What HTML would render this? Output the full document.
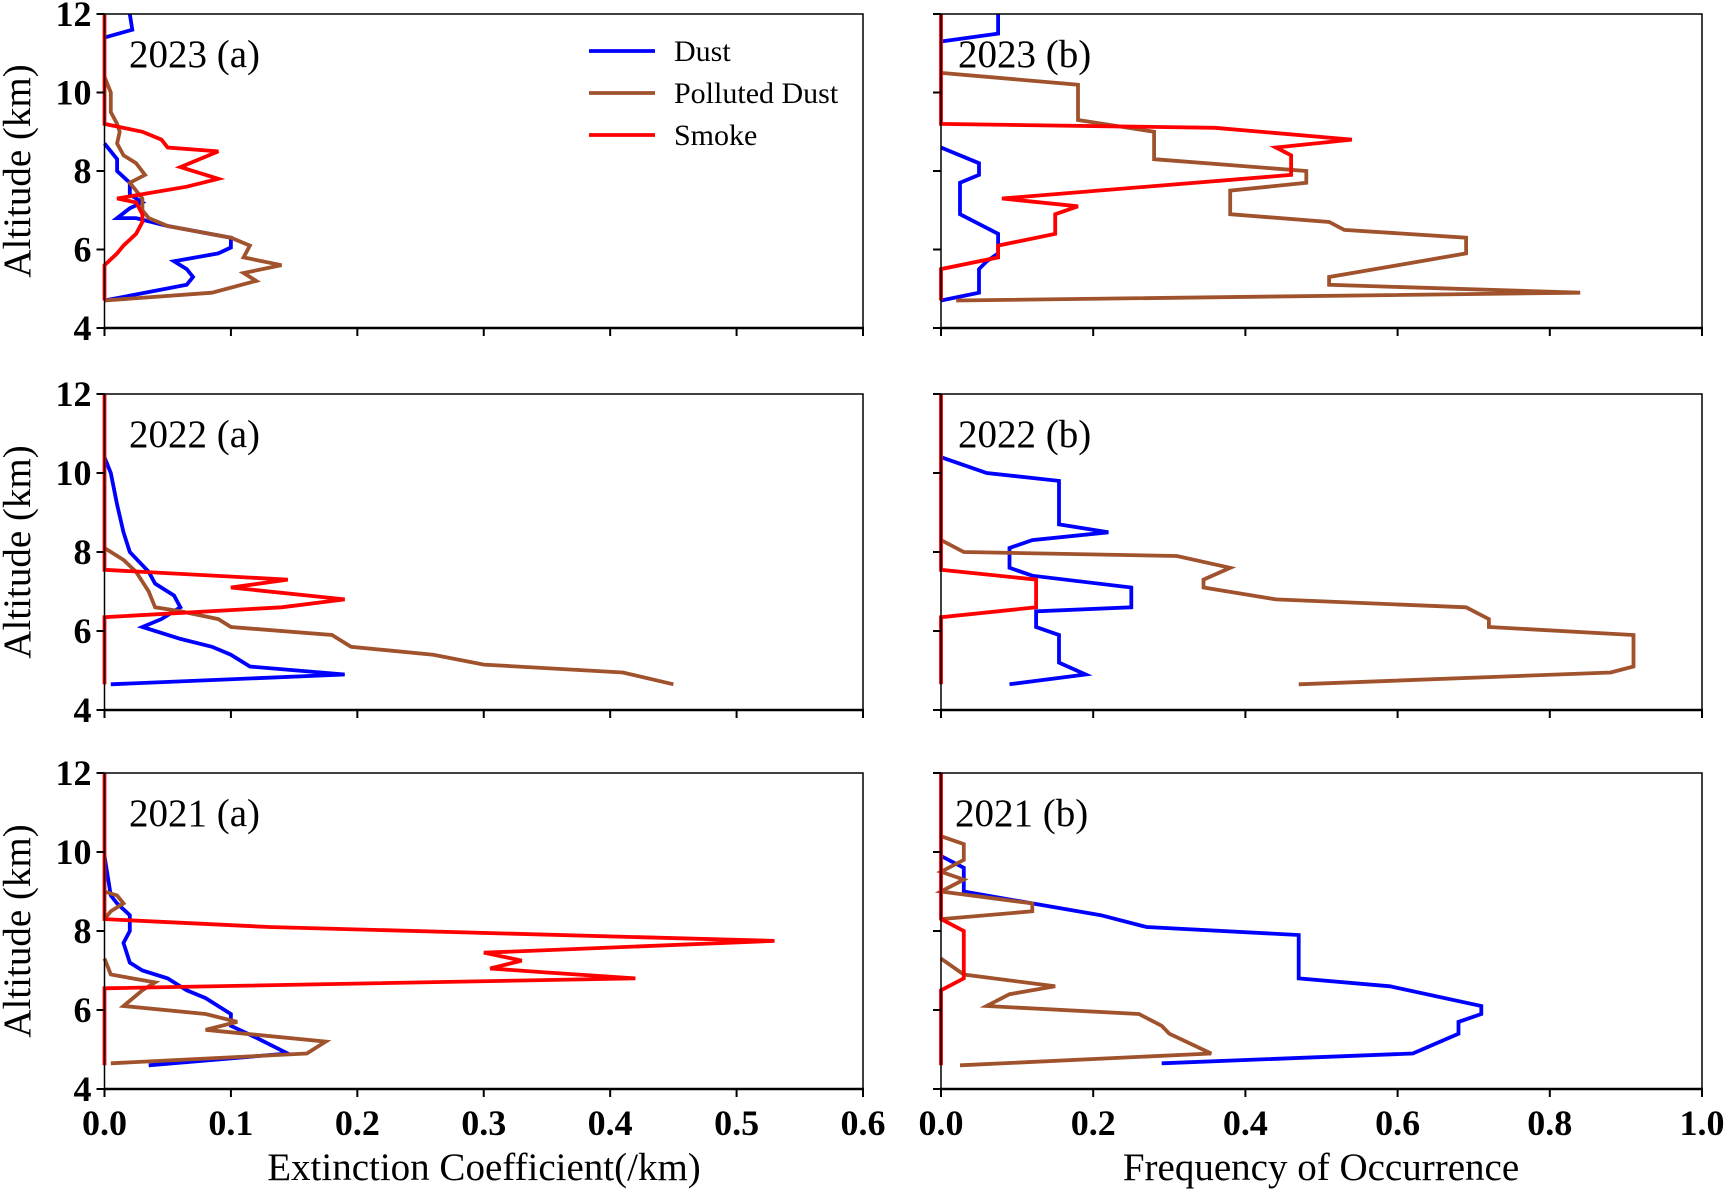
<!DOCTYPE html>
<html><head><meta charset="utf-8">
<style>body{margin:0;background:#fff}svg{display:block}text{font-family:"Liberation Serif",serif}</style>
</head><body>
<svg id="c" width="1725" height="1189"></svg>
<script>
const years=["2023","2022","2021"];
const yTicks=[4,6,8,10,12];
const xTicksA=["0.0","0.1","0.2","0.3","0.4","0.5","0.6"];
const xTicksB=["0.0","0.2","0.4","0.6","0.8","1.0"];
// each series: [value, altitude km]
const dustA2023=[[0.02,12],[0.022,11.6],[0,11.4],null,[0,8.7],[0.01,8.3],[0.01,8],[0.02,7.7],[0.02,7.4],[0.03,7.2],[0.02,7.05],[0.01,6.8],[0.025,6.8],[0.05,6.6],[0.1,6.3],[0.1,6.05],[0.09,5.9],[0.055,5.7],[0.065,5.5],[0.07,5.3],[0.065,5.1],[0,4.7]];
const pdustA2023=[[0,10.4],[0.005,10],[0.005,9.5],[0.01,9.2],[0.012,9],[0.01,8.7],[0.015,8.4],[0.025,8.2],[0.032,7.9],[0.02,7.7],[0.025,7.5],[0.03,7.3],[0.03,7.0],[0.035,6.8],[0.05,6.6],[0.1,6.3],[0.115,6.1],[0.11,5.8],[0.14,5.6],[0.11,5.4],[0.12,5.2],[0.085,4.9],[0,4.7]];
const smokeA2023=[[0,12],[0,9.2],[0.03,9.0],[0.045,8.8],[0.05,8.6],[0.09,8.5],[0.06,8.1],[0.09,7.8],[0.065,7.6],[0.01,7.3],[0.025,7.2],[0.03,6.9],[0.03,6.7],[0.025,6.4],[0.015,6.1],[0.01,5.9],[0,5.6],[0,4.7]];
const dustB2023=[[0.075,12],[0.075,11.5],[0,11.3],null,[0,8.6],[0.05,8.2],[0.05,7.9],[0.025,7.7],[0.025,6.9],[0.075,6.4],[0.075,5.9],[0.06,5.7],[0.05,5.5],[0.05,4.9],[0,4.7]];
const pdustB2023=[[0,10.5],[0.18,10.2],[0.18,9.3],[0.28,9],[0.28,8.3],[0.48,8],[0.48,7.7],[0.38,7.5],[0.38,6.9],[0.51,6.7],[0.53,6.5],[0.69,6.3],[0.69,5.9],[0.6,5.6],[0.51,5.3],[0.51,5.1],[0.84,4.9],[0.02,4.7]];
const smokeB2023=[[0,12],[0,9.2],[0.36,9.1],[0.54,8.8],[0.44,8.6],[0.46,8.4],[0.46,7.9],[0.08,7.3],[0.18,7.1],[0.15,6.9],[0.15,6.4],[0.075,6.1],[0.075,5.8],[0,5.5],[0,4.7]];
const dustA2022=[[0,10.4],[0.005,10],[0.01,9.2],[0.015,8.5],[0.02,8],[0.035,7.5],[0.04,7.2],[0.055,6.9],[0.06,6.6],[0.045,6.3],[0.03,6.1],[0.06,5.8],[0.085,5.6],[0.1,5.4],[0.115,5.1],[0.19,4.9],[0.005,4.65]];
const pdustA2022=[[0,8.1],[0.015,7.8],[0.025,7.5],[0.035,7.0],[0.04,6.6],[0.06,6.5],[0.09,6.3],[0.1,6.1],[0.18,5.9],[0.195,5.6],[0.26,5.4],[0.3,5.15],[0.41,4.95],[0.45,4.65]];
const smokeA2022=[[0,12],[0,7.55],[0.145,7.3],[0.1,7.1],[0.19,6.8],[0.14,6.6],[0,6.35],[0,4.65]];
const dustB2022=[[0,10.4],[0.06,10],[0.155,9.8],[0.155,8.7],[0.22,8.5],[0.12,8.3],[0.09,8.1],[0.09,7.6],[0.12,7.4],[0.25,7.1],[0.25,6.6],[0.125,6.5],[0.125,6.1],[0.155,5.9],[0.155,5.2],[0.19,4.9],[0.09,4.65]];
const pdustB2022=[[0,8.3],[0.03,8.0],[0.31,7.9],[0.38,7.6],[0.345,7.3],[0.345,7.1],[0.44,6.8],[0.69,6.6],[0.72,6.3],[0.72,6.1],[0.91,5.9],[0.91,5.1],[0.88,4.95],[0.47,4.65]];
const smokeB2022=[[0,12],[0,7.55],[0.125,7.3],[0.125,6.6],[0,6.35],[0,4.65]];
const dustA2021=[[0,9.9],[0.005,8.9],[0.01,8.7],[0.02,8.4],[0.02,8.0],[0.015,7.7],[0.02,7.2],[0.03,7.0],[0.05,6.8],[0.065,6.5],[0.08,6.3],[0.1,5.9],[0.1,5.6],[0.12,5.3],[0.145,4.9],[0.035,4.6]];
const pdustA2021=[[0,9.0],[0.01,8.9],[0.015,8.7],[0.005,8.5],[0,8.3],null,[0,7.3],[0.005,6.9],[0.04,6.7],[0.03,6.5],[0.015,6.1],[0.08,5.9],[0.105,5.7],[0.08,5.5],[0.175,5.2],[0.16,4.9],[0.005,4.65]];
const smokeA2021=[[0,12],[0,8.3],[0.13,8.1],[0.53,7.75],[0.3,7.45],[0.33,7.25],[0.305,7.05],[0.35,6.95],[0.42,6.8],[0,6.55],[0,4.6]];
const dustB2021=[[0,9.9],[0.03,9.6],[0.03,9],[0.12,8.7],[0.21,8.4],[0.27,8.1],[0.47,7.9],[0.47,6.8],[0.59,6.6],[0.71,6.1],[0.71,5.9],[0.68,5.7],[0.68,5.4],[0.62,4.9],[0.29,4.65]];
const pdustB2021=[[0,10.4],[0.03,10.2],[0.03,9.8],[0,9.5],[0.03,9.3],[0,9.0],[0.12,8.7],[0.12,8.5],[0,8.3],null,[0,7.3],[0.03,6.9],[0.15,6.6],[0.09,6.4],[0.06,6.1],[0.26,5.9],[0.29,5.6],[0.3,5.4],[0.355,4.9],[0.025,4.6]];
const smokeB2021=[[0,12],[0,8.3],[0.03,8],[0.03,6.8],[0,6.5],[0,4.6]];

const NS="http://www.w3.org/2000/svg";const svg=document.getElementById('c');
function el(t,a,p){const e=document.createElementNS(NS,t);for(const k in a)e.setAttribute(k,a[k]);(p||svg).appendChild(e);return e;}
const rows=[[14,328],[394,710],[773,1089]];
const cols=[{x0:104.5,x1:863,max:0.6,ticks:xTicksA,tag:"a"},{x0:941,x1:1702,max:1.0,ticks:xTicksB,tag:"b"}];
const data={"2023":[[dustA2023,pdustA2023,smokeA2023],[dustB2023,pdustB2023,smokeB2023]],
"2022":[[dustA2022,pdustA2022,smokeA2022],[dustB2022,pdustB2022,smokeB2022]],
"2021":[[dustA2021,pdustA2021,smokeA2021],[dustB2021,pdustB2021,smokeB2021]]};
const colors=["#0000ff","#a0522d","#ff0000"];const names=["dust","polluted-dust","smoke"];
years.forEach((yr,r)=>{
 const [top,bot]=rows[r];
 const ys=v=>bot-(v-4)/8*(bot-top);
 cols.forEach((c,ci)=>{
  const xs=v=>c.x0+v/c.max*(c.x1-c.x0);
  const g=el('g',{});
  
  
  data[yr][ci].forEach((s,si)=>{
   let d="",pen=false;
   s.forEach(p=>{if(!p){pen=false;return;}d+=(pen?"L":"M")+xs(p[0]).toFixed(1)+","+ys(p[1]).toFixed(1);pen=true;});
   const pa=el('path',{d:d,fill:"none",stroke:colors[si],"stroke-width":3.8,"stroke-linejoin":"miter"},g);
   
   
  });
  const fr=el('rect',{x:c.x0,y:top,width:c.x1-c.x0,height:bot-top,fill:"none",stroke:"#000","stroke-width":1.5},g);
  
  
  el('line',{x1:c.x0-1,x2:c.x1+1,y1:bot,y2:bot,stroke:"#000","stroke-width":2.5},g);
  yTicks.forEach(t=>{
   el('line',{x1:c.x0-8,x2:c.x0,y1:ys(t),y2:ys(t),stroke:"#000","stroke-width":2},g);
   if(ci==0){const tx=el('text',{x:c.x0-13,y:ys(t)+12,"text-anchor":"end","font-size":36,"font-weight":"bold"},g);tx.textContent=t;
    }
  });
  c.ticks.forEach((t,i)=>{
   const x=c.x0+i/(c.ticks.length-1)*(c.x1-c.x0);
   el('line',{x1:x,x2:x,y1:bot,y2:bot+8,stroke:"#000","stroke-width":2},g);
   if(r==2){const tx=el('text',{x:x,y:1135,"text-anchor":"middle","font-size":36,"font-weight":"bold"},g);tx.textContent=t;
    }
  });
  const lb=el('text',{x:ci==0?129:(yr=="2021"?955:958),y:top+53,"font-size":39},g);
  lb.textContent=yr+" ("+c.tag+")";
  
  
 });
 const yl=el('text',{x:0,y:0,transform:`translate(30,${(top+bot)/2}) rotate(-90)`,"text-anchor":"middle","font-size":39});
 yl.textContent="Altitude (km)";
 
 
});
const xt1=el('text',{x:484,y:1180,"text-anchor":"middle","font-size":39});xt1.textContent="Extinction Coefficient(/km)";

const xt2=el('text',{x:1321,y:1180,"text-anchor":"middle","font-size":39});xt2.textContent="Frequency of Occurrence";

const legendLabels=["Dust","Polluted Dust","Smoke"];
legendLabels.forEach((l,i)=>{
 const y=51+i*42;
 const g=el('g',{});
 
 
 el('line',{x1:589,x2:655,y1:y,y2:y,stroke:colors[i],"stroke-width":3.8},g);
 const t=el('text',{x:674,y:y+10,"font-size":30},g);t.textContent=l;
});
</script>
</body></html>
